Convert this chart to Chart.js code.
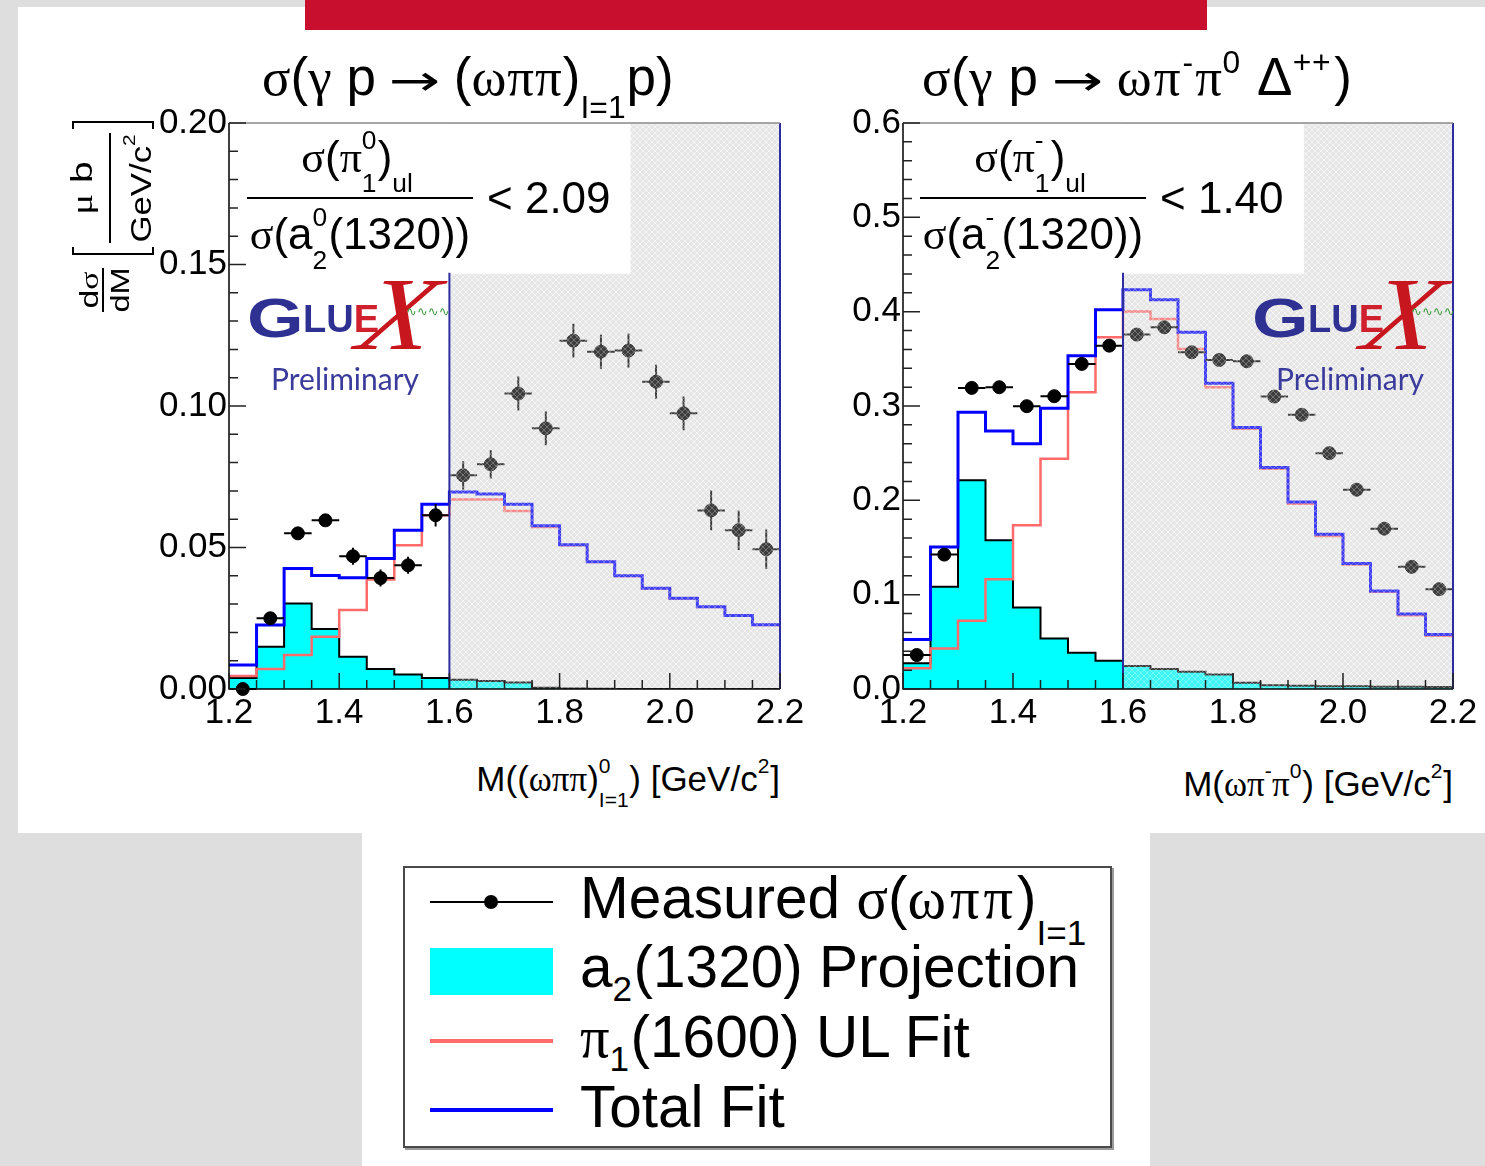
<!DOCTYPE html>
<html><head><meta charset="utf-8">
<script src="https://cdn.jsdelivr.net/npm/chart.js@4.4.1/dist/chart.umd.min.js"></script>
<style>
body{margin:0;width:1485px;height:1166px;position:relative;overflow:hidden;background:#dedede;font-family:'Liberation Sans',Arial,sans-serif;color:#000}
.abs{position:absolute;white-space:nowrap;line-height:1}
.g{font-family:'Liberation Serif','DejaVu Serif',serif}
.ar{font-family:'DejaVu Sans',sans-serif;font-size:0.8em;display:inline-block;transform:scaleX(1.45);margin:0 0.5em}
.st{display:inline-block;position:relative;font-size:0.6em;height:0;width:0.6em}
.st .su{position:absolute;left:0;bottom:0.72em}
.st .sb{position:absolute;left:0;top:-0.08em}
.st .sbh{position:absolute;left:0;top:-0.47em}
.tt .st .su{bottom:0.5em}
.cv{position:absolute}
</style></head>
<body>
<div class="abs" style="left:18px;top:7px;width:1467px;height:826px;background:#fff"></div>
<div class="abs" style="left:362px;top:833px;width:788px;height:333px;background:#fff"></div>
<div class="abs" style="left:305px;top:0;width:902px;height:30px;background:#c8102e"></div>

<div class="cv" style="left:130px;top:100px"><canvas id="cL" width="680" height="650"></canvas></div>
<div class="cv" style="left:820px;top:100px"><canvas id="cR" width="665" height="650"></canvas></div>

<!-- titles -->
<div class="abs tt" style="left:262px;top:50px;font-size:53px"><span class="g">σ</span>(<span class="g">γ</span> p<span class="ar">→</span>(<span class="g" style="letter-spacing:1px">ωππ</span>)<span class="st" style="width:1.45em"><span class="sb">I=1</span></span>p)</div>
<div class="abs tt" style="left:922px;top:50px;font-size:53px;letter-spacing:0.5px"><span class="g">σ</span>(<span class="g">γ</span> p<span class="ar">→</span><span class="g" style="letter-spacing:2px">ωπ</span><span class="st" style="width:0.4em"><span class="su">-</span></span><span class="g">π</span><span class="st" style="width:0.7em"><span class="su">0</span></span> Δ<span class="st" style="width:1.3em"><span class="su">++</span></span>)</div>

<div id="overlay"></div>

<!-- x axis titles -->
<div class="abs" style="right:705px;top:761px;font-size:35px">M((<span class="g">ωππ</span>)<span class="st" style="width:1.45em"><span class="su">0</span><span class="sb">I=1</span></span>) [GeV/c<span class="st"><span class="su">2</span></span>]</div>
<div class="abs" style="right:32px;top:766px;font-size:35px">M(<span class="g">ωπ</span><span class="st" style="width:0.35em"><span class="su">-</span></span><span class="g">π</span><span class="st"><span class="su">0</span></span>) [GeV/c<span class="st"><span class="su">2</span></span>]</div>

<!-- y axis title (rotated) -->
<div class="abs" style="left:72px;top:315px;width:195px;height:85px;transform:rotate(-90deg);transform-origin:0 0">
  <div class="abs" style="left:0;width:50px;text-align:center;top:4px;font-size:26px;transform:scaleX(1.3)">d<span class="g">σ</span></div>
  <div class="abs" style="left:3px;width:44px;top:30px;height:2px;background:#000"></div>
  <div class="abs" style="left:0;width:50px;text-align:center;top:35px;font-size:26px;transform:scaleX(1.25)">dM</div>
  <div class="abs" style="left:60px;top:0;width:2px;height:82px;background:#000"></div>
  <div class="abs" style="left:60px;top:0;width:8px;height:2px;background:#000"></div>
  <div class="abs" style="left:60px;top:80px;width:8px;height:2px;background:#000"></div>
  <div class="abs" style="left:72px;width:110px;text-align:center;top:-5px;font-size:30px;transform:scaleX(1.3)"><span class="g">μ</span> b</div>
  <div class="abs" style="left:72px;width:110px;top:37px;height:2px;background:#000"></div>
  <div class="abs" style="left:72px;width:110px;text-align:center;top:55px;font-size:29px;transform:scaleX(1.2)">GeV/c<span class="st"><span class="su">2</span></span></div>
  <div class="abs" style="left:192px;top:0;width:2px;height:82px;background:#000"></div>
  <div class="abs" style="left:186px;top:0;width:8px;height:2px;background:#000"></div>
  <div class="abs" style="left:186px;top:80px;width:8px;height:2px;background:#000"></div>
</div>

<!-- legend -->
<div class="abs" style="left:403px;top:866px;width:705px;height:278px;border:2px solid #4a4a4a;background:#fff;box-shadow:2px 2px 0 #9a9a9a"></div>
<div class="abs" style="left:430px;top:901px;width:123px;height:2px;background:#000"></div>
<div class="abs" style="left:484px;top:895px;width:14px;height:14px;border-radius:7px;background:#000"></div>
<div class="abs" style="left:430px;top:948px;width:123px;height:47px;background:#00ffff"></div>
<div class="abs" style="left:430px;top:1039px;width:123px;height:4px;background:#ff6b6b"></div>
<div class="abs" style="left:430px;top:1108px;width:123px;height:4px;background:#0000ff"></div>
<div class="abs" style="left:580px;top:869px;font-size:58.5px">Measured <span class="g">σ</span>(<span class="g" style="letter-spacing:4px">ωππ</span>)<span class="st" style="width:1.45em"><span class="sb">I=1</span></span></div>
<div class="abs" style="left:580px;top:938px;font-size:58.5px">a<span class="st"><span class="sbh">2</span></span>(1320) Projection</div>
<div class="abs" style="left:580px;top:1008px;font-size:58.5px"><span class="g">π</span><span class="st"><span class="sbh">1</span></span>(1600) UL Fit</div>
<div class="abs" style="left:580px;top:1078px;font-size:58.5px">Total Fit</div>

<script>
// ---- data ----
const binEdges = [1.20,1.25,1.30,1.35,1.40,1.45,1.50,1.55,1.60,1.65,1.70,1.75,1.80,1.85,1.90,1.95,2.00,2.05,2.10,2.15,2.20];
const binCenters = [1.225,1.275,1.325,1.375,1.425,1.475,1.525,1.575,1.625,1.675,1.725,1.775,1.825,1.875,1.925,1.975,2.025,2.075,2.125,2.175];
const xTickLabels = ['1.2','1.4','1.6','1.8','2.0','2.2'];
const leftYTickLabels = ['0.00','0.05','0.10','0.15','0.20'];
const rightYTickLabels = ['0.0','0.1','0.2','0.3','0.4','0.5','0.6'];

const leftMeasured    = [0.000,0.025,0.055,0.0596,0.0469,0.0392,0.0437,0.0614,0.0755,0.0794,0.1044,0.0921,0.1231,0.1192,0.1196,0.1086,0.0974,0.0631,0.0561,0.0494];
const leftMeasuredErr = [0.001,0.0015,0.0015,0.0015,0.003,0.003,0.003,0.004,0.005,0.005,0.006,0.006,0.006,0.006,0.006,0.006,0.006,0.007,0.007,0.007];
const leftA2    = [0.0039,0.0149,0.0302,0.0212,0.0114,0.0071,0.0051,0.0039,0.0033,0.0028,0.0023,0.0004,0.0002,0.0001,0,0,0,0,0,0];
const leftPi1   = [0.0046,0.0071,0.0120,0.0185,0.0279,0.0387,0.0508,0.0614,0.0670,0.0670,0.0629,0.0572,0.0508,0.0449,0.0399,0.0355,0.0320,0.0290,0.0259,0.0226];
const leftTotal = [0.0085,0.0226,0.0426,0.0401,0.0393,0.0461,0.0561,0.0653,0.0696,0.0689,0.0653,0.0577,0.0510,0.0450,0.0400,0.0356,0.0321,0.0291,0.0260,0.0227];

const rightMeasured    = [0.036,0.1425,0.3192,0.3199,0.2998,0.3104,0.3446,0.364,0.3757,0.3834,0.357,0.3488,0.3474,0.310,0.2907,0.250,0.2113,0.170,0.1295,0.1058];
const rightMeasuredErr = [0.003,0.004,0.004,0.004,0.004,0.004,0.004,0.004,0.004,0.004,0.004,0.004,0.004,0.004,0.004,0.004,0.004,0.004,0.004,0.004];
const rightA2    = [0.0272,0.1083,0.2212,0.1577,0.0864,0.0536,0.0384,0.0300,0.0243,0.0212,0.0183,0.0155,0.0067,0.0040,0.0035,0.0030,0.0030,0.0025,0.0025,0.0020];
const rightPi1   = [0.0219,0.0430,0.0723,0.1164,0.1735,0.2441,0.3146,0.3728,0.4003,0.3922,0.3605,0.3199,0.2759,0.2335,0.1965,0.1623,0.1320,0.1030,0.0783,0.0564];
const rightTotal = [0.0526,0.1506,0.2934,0.2734,0.2600,0.2977,0.3534,0.4021,0.4233,0.4127,0.3781,0.3241,0.2772,0.2349,0.1982,0.1640,0.1330,0.1040,0.0794,0.0579];

// ---- overlays (text boxes, logos) ----
function ratioHTML(x0, charge, val){
  return `
  <div class="abs" style="left:${x0}px;top:135px;width:226px;text-align:center;font-size:44px"><span class="g">σ</span>(<span class="g">π</span><span class="st" style="width:0.6em"><span class="su">${charge}</span><span class="sb">1</span></span>)<span class="st" style="width:1em"><span class="sb">ul</span></span></div>
  <div class="abs" style="left:${x0}px;top:197px;width:226px;height:2px;background:#000"></div>
  <div class="abs" style="left:${x0}px;top:212px;width:226px;text-align:center;font-size:44px"><span class="g">σ</span>(a<span class="st" style="width:0.6em"><span class="su">${charge}</span><span class="sb">2</span></span>(1320))</div>
  <div class="abs" style="left:${x0+240}px;top:176px;font-size:44px">&lt; ${val}</div>`;
}
function logoHTML(x0){
  return `
  <div class="abs" style="left:${x0}px;top:290px;font-size:56px;font-weight:bold;color:#2e3192;transform:scaleX(1.3);transform-origin:0 0">G</div>
  <div class="abs" style="left:${x0+56}px;top:300px;font-size:38px;font-weight:bold;color:#2e3192">LU<span style="color:#d0202e">E</span></div>
  <div class="abs g" style="left:${x0+107}px;top:262px;font-size:104px;font-style:italic;color:#c8161e;transform:scaleX(1.15) skewX(-12deg);transform-origin:0 88px">X</div>
  <div class="abs" style="left:${x0+159}px;top:305px;font-size:13px;color:#3a9a3a;font-family:'DejaVu Sans'">∿∿∿∿</div>
  <div class="abs" style="left:${x0+24}px;top:363px;font-size:30px;color:#3b3b9c;font-family:Lato,'Open Sans',sans-serif">Preliminary</div>`;
}
document.getElementById('overlay').innerHTML =
  ratioHTML(247,'0','2.09') + ratioHTML(920,'-','1.40') + logoHTML(247) + logoHTML(1252);

// ---- shading patterns ----
function makePattern(base, line, alpha){
  const c=document.createElement('canvas'); c.width=6; c.height=6;
  const x=c.getContext('2d');
  x.globalAlpha=alpha;
  x.fillStyle=base; x.fillRect(0,0,6,6);
  x.strokeStyle=line; x.lineWidth=1;
  x.beginPath(); x.moveTo(0,0); x.lineTo(6,6); x.moveTo(6,0); x.lineTo(0,6); x.stroke();
  return c;
}
const patternBack = makePattern('#ebebeb','#f7f7f7',1);
const patternOver = makePattern('#dcdcdc','#ffffff',0.28);

const rootPlugin = {
  id:'rootFrame',
  beforeDatasetsDraw(chart, args, o){
    const ctx=chart.ctx, a=chart.chartArea, xs=chart.scales.x;
    const sx0=xs.getPixelForValue(o.shadeFrom), sx1=xs.getPixelForValue(o.shadeTo);
    ctx.save();
    ctx.fillStyle=ctx.createPattern(patternBack,'repeat');
    ctx.fillRect(sx0, a.top, sx1-sx0, a.bottom-a.top);
    ctx.restore();
  },
  afterDatasetsDraw(chart, args, o){
    const ctx=chart.ctx, a=chart.chartArea, xs=chart.scales.x, ys=chart.scales.y;
    ctx.save();
    // error bars
    const meta=chart.getDatasetMeta(0);
    ctx.strokeStyle='#000'; ctx.lineWidth=2;
    meta.data.forEach((pt,i)=>{
      const v=o.values[i], e=o.errors[i], c=binCenters[i];
      ctx.beginPath();
      ctx.moveTo(xs.getPixelForValue(c-0.025), ys.getPixelForValue(v));
      ctx.lineTo(xs.getPixelForValue(c+0.025), ys.getPixelForValue(v));
      ctx.moveTo(xs.getPixelForValue(c), ys.getPixelForValue(v-e));
      ctx.lineTo(xs.getPixelForValue(c), ys.getPixelForValue(v+e));
      ctx.stroke();
    });
    // shaded overlay texture
    const sx0=xs.getPixelForValue(o.shadeFrom), sx1=xs.getPixelForValue(o.shadeTo);
    ctx.fillStyle=ctx.createPattern(patternOver,'repeat');
    ctx.fillRect(sx0, a.top, sx1-sx0, a.bottom-a.top);
    // white text box
    const bw=(a.right-a.left)*o.boxW, bh=(a.bottom-a.top)*o.boxH;
    ctx.fillStyle='#fff';
    ctx.fillRect(a.left+1, a.top+1, bw, bh);
    // blue borders of shaded box
    ctx.strokeStyle='#2d2da0'; ctx.lineWidth=2;
    ctx.beginPath();
    ctx.moveTo(sx0, a.top+bh); ctx.lineTo(sx0, a.bottom);
    ctx.moveTo(sx1, a.top); ctx.lineTo(sx1, a.bottom);
    ctx.stroke();
    // top frame
    ctx.strokeStyle='#8a8a8a'; ctx.lineWidth=1.5;
    ctx.beginPath(); ctx.moveTo(a.left, a.top); ctx.lineTo(sx1, a.top); ctx.stroke();
    // axes
    ctx.strokeStyle='#000'; ctx.lineWidth=1.5;
    ctx.beginPath();
    ctx.moveTo(a.left, a.top); ctx.lineTo(a.left, a.bottom); ctx.lineTo(a.right, a.bottom);
    ctx.stroke();
    // ticks (inward)
    ctx.strokeStyle='#222'; ctx.lineWidth=1.5;
    ctx.beginPath();
    for(let k=0;k<binEdges.length;k++){
      const px=xs.getPixelForValue(binEdges[k]); const len=(k%4===0)?16:9;
      ctx.moveTo(px, a.bottom); ctx.lineTo(px, a.bottom-len);
    }
    const nMinor=Math.round(o.yMax/o.yMinor);
    for(let k=0;k<=nMinor;k++){
      const py=ys.getPixelForValue(k*o.yMinor); const len=(k%5===0)?17:9;
      ctx.moveTo(a.left, py); ctx.lineTo(a.left+len, py);
    }
    ctx.stroke();
    ctx.restore();
  }
};

function histPoints(values){
  const pts=values.map((v,i)=>({x:binEdges[i], y:v}));
  pts.push({x:binEdges[binEdges.length-1], y:values[values.length-1]});
  return pts;
}

function makeChart(id, measured, errs, a2, pi1, total, yMax, yStep, yMinor, yLabels, yAxisWidth, padRight){
  const font={family:"'Liberation Sans', Arial, sans-serif", size:35};
  return new Chart(document.getElementById(id), {
    type:'line',
    data:{datasets:[
      {label:'Measured', data:measured.map((v,i)=>({x:binCenters[i], y:v})), showLine:false,
       pointRadius:6.5, pointBackgroundColor:'#000', pointBorderColor:'#000', clip:false},
      {label:'Total Fit', data:histPoints(total), stepped:true, borderColor:'#0000ff', borderWidth:3, pointRadius:0, fill:false},
      {label:'pi1 UL Fit', data:histPoints(pi1), stepped:true, borderColor:'#ff6b6b', borderWidth:2.5, pointRadius:0, fill:false},
      {label:'a2 Projection', data:histPoints(a2), stepped:true, borderColor:'#000', borderWidth:2, pointRadius:0, fill:'origin', backgroundColor:'#00ffff'}
    ]},
    options:{
      responsive:false, animation:false, devicePixelRatio:1,
      layout:{padding:{top:22,right:padRight,left:0,bottom:0}},
      plugins:{legend:{display:false}, tooltip:{enabled:false},
        rootFrame:{values:measured, errors:errs, shadeFrom:1.6, shadeTo:2.2, boxW:0.727, boxH:0.2646, yMax:yMax, yMinor:yMinor}},
      scales:{
        x:{type:'linear', min:1.2, max:2.2, grid:{display:false, drawTicks:false}, border:{display:false},
           ticks:{stepSize:0.2, maxRotation:0, autoSkip:false, padding:3, color:'#000', font:font,
                  callback:(v,i)=>xTickLabels[i]},
           afterFit:(s)=>{s.height=61;}},
        y:{min:0, max:yMax, grid:{display:false, drawTicks:false}, border:{display:false},
           ticks:{stepSize:yStep, padding:2, color:'#000', font:font, callback:(v,i)=>yLabels[i]},
           afterFit:(s)=>{s.width=yAxisWidth;}}
      }
    },
    plugins:[rootPlugin]
  });
}

makeChart('cL', leftMeasured, leftMeasuredErr, leftA2, leftPi1, leftTotal, 0.2, 0.05, 0.01, leftYTickLabels, 99, 30);
makeChart('cR', rightMeasured, rightMeasuredErr, rightA2, rightPi1, rightTotal, 0.6, 0.1, 0.02, rightYTickLabels, 83, 32);
</script>
</body></html>
